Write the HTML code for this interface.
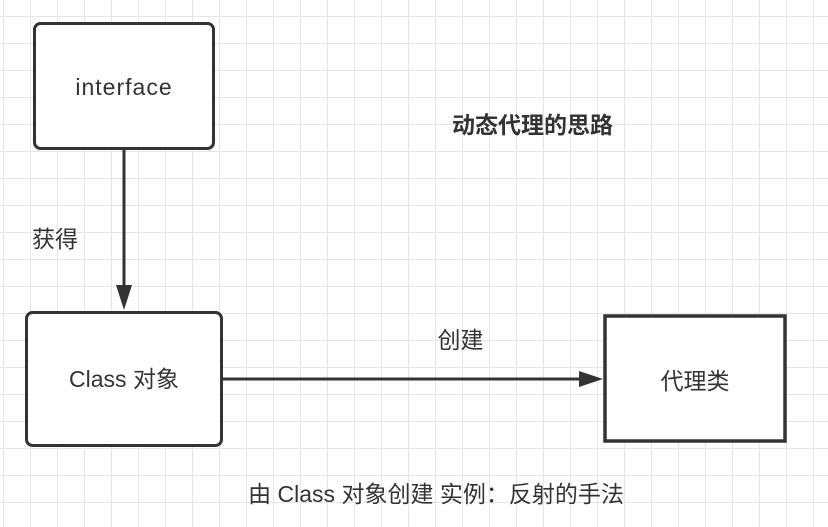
<!DOCTYPE html>
<html>
<head>
<meta charset="utf-8">
<style>
  html, body { margin: 0; padding: 0; background: #ffffff; }
  svg { display: block; }
  text { font-family: "Liberation Sans", "Noto Sans CJK SC", sans-serif; fill: #333333; }
</style>
</head>
<body>
<svg width="828" height="527" viewBox="0 0 828 527" xmlns="http://www.w3.org/2000/svg">
  <defs>
    <pattern id="grid" x="3" y="16" width="27" height="27" patternUnits="userSpaceOnUse">
      <path d="M0.5 0 V27 M0 0.5 H27" stroke="#e6e6e6" stroke-width="1" fill="none"/>
    </pattern>
  </defs>
  <rect x="0" y="0" width="828" height="527" fill="#ffffff"/>
  <rect x="0" y="0" width="828" height="527" fill="url(#grid)"/>

  <!-- interface box -->
  <rect x="34.5" y="23.5" width="179" height="125" rx="6" ry="6" fill="#ffffff" stroke="#333333" stroke-width="3"/>
  <text x="124" y="95" font-size="23" text-anchor="middle" letter-spacing="1">interface</text>

  <!-- vertical connector -->
  <line x1="124" y1="150" x2="124" y2="287" stroke="#333333" stroke-width="3"/>
  <polygon points="116,285 132,285 124,310" fill="#333333"/>
  <text x="32" y="247" font-size="23">获得</text>

  <!-- Class box -->
  <rect x="26.5" y="312.5" width="195" height="133" rx="6" ry="6" fill="#ffffff" stroke="#333333" stroke-width="3"/>
  <text x="124" y="387" font-size="23" text-anchor="middle">Class 对象</text>

  <!-- horizontal connector -->
  <line x1="223" y1="379" x2="581" y2="379" stroke="#333333" stroke-width="3"/>
  <polygon points="579,371 579,387 603,379" fill="#333333"/>
  <text x="460.5" y="348" font-size="23" text-anchor="middle">创建</text>

  <!-- proxy class box -->
  <rect x="605" y="316" width="180" height="125" fill="#ffffff" stroke="#333333" stroke-width="3.5"/>
  <text x="695" y="389" font-size="23" text-anchor="middle">代理类</text>

  <!-- title -->
  <text x="532.5" y="133" font-size="23" font-weight="bold" text-anchor="middle">动态代理的思路</text>

  <!-- bottom note -->
  <text x="436" y="502" font-size="23" text-anchor="middle">由 Class 对象创建 实例：反射的手法</text>
</svg>
</body>
</html>
